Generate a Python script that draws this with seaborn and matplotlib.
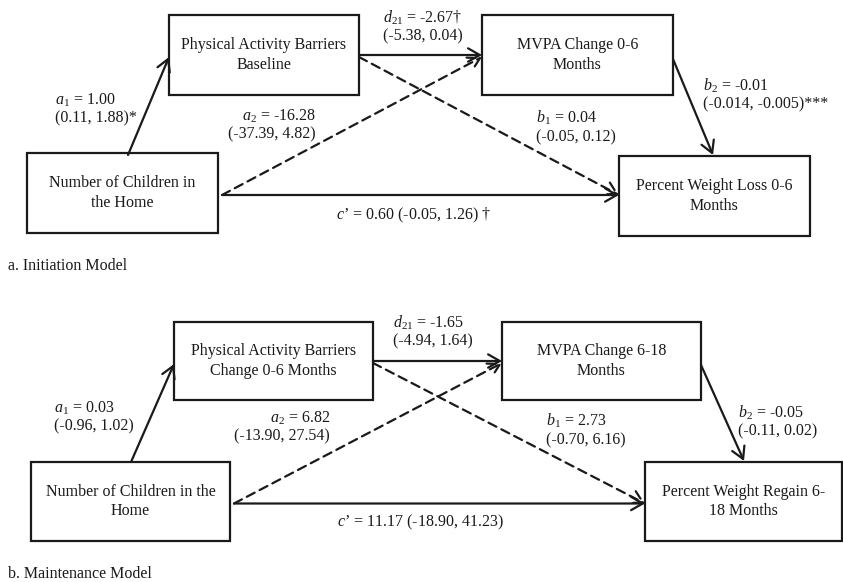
import matplotlib
matplotlib.use("Agg")
import matplotlib.pyplot as plt
import seaborn as sns
from matplotlib.patches import Rectangle

# Node labels for both models
init_nodes = ["Number of Children in\nthe Home", "Physical Activity Barriers\nBaseline",
              "MVPA Change 0-6\nMonths", "Percent Weight Loss 0-6\nMonths"]
maint_nodes = ["Number of Children in the\nHome", "Physical Activity Barriers\nChange 0-6 Months",
               "MVPA Change 6-18\nMonths", "Percent Weight Regain 6-\n18 Months"]

# Path coefficients (estimate, CI, marker)
init_paths = {
    "a1": ("1.00", "(0.11, 1.88)*"),
    "a2": ("-16.28", "(-37.39, 4.82)"),
    "d21": ("-2.67\u2020", "(-5.38, 0.04)"),
    "b1": ("0.04", "(-0.05, 0.12)"),
    "b2": ("-0.01", "(-0.014, -0.005)***"),
    "c": ("0.60", "(-0.05, 1.26) \u2020"),
}
maint_paths = {
    "a1": ("0.03", "(-0.96, 1.02)"),
    "a2": ("6.82", "(-13.90, 27.54)"),
    "d21": ("-1.65", "(-4.94, 1.64)"),
    "b1": ("2.73", "(-0.70, 6.16)"),
    "b2": ("-0.05", "(-0.11, 0.02)"),
    "c": ("11.17", "(-18.90, 41.23)"),
}
panel_titles = ["a. Initiation Model", "b. Maintenance Model"]

sns.set_theme(style="white")
plt.rcParams["font.family"] = ["Liberation Serif", "DejaVu Serif"]
plt.rcParams["mathtext.fontset"] = "custom"
plt.rcParams["mathtext.rm"] = "Liberation Serif"
plt.rcParams["mathtext.it"] = "Liberation Serif:italic"

fig = plt.figure(figsize=(8.43, 5.82), dpi=100)
ax = fig.add_axes([0, 0, 1, 1])
ax.set_xlim(0, 843)
ax.set_ylim(582, 0)
ax.axis("off")

FS = 11.5
LW = 1.6
INK = "#1a1a1a"


def box(x0, y0, x1, y1, label):
    ax.add_patch(Rectangle((x0, y0), x1 - x0, y1 - y0, fill=False, lw=LW, ec=INK))
    ax.text((x0 + x1) / 2, (y0 + y1) / 2, label, ha="center", va="center",
            fontsize=FS, linespacing=1.3, color=INK)


def arrow(p0, p1, dashed=False):
    ax.annotate("", xy=p1, xytext=p0,
                arrowprops=dict(arrowstyle="->,head_length=0.7,head_width=0.4",
                                lw=LW, color=INK,
                                linestyle=(0, (4, 2.5)) if dashed else "-",
                                shrinkA=0, shrinkB=0))


def draw_model(nodes, paths, lay, title, ty):
    ch, pa, mv, pw = lay["boxes"]
    for b, lbl in zip(lay["boxes"], nodes):
        box(*b, lbl)
    midc = (ch[1] + ch[3]) / 2 + 2
    midp = (pa[1] + pa[3]) / 2 + 1
    # arrows
    arrow(lay["a1_start"], (pa[0], lay["a1_end_y"]))
    arrow((pa[2], midp - 1), (mv[0], midp - 1))
    arrow((ch[2] + 4, midc), (mv[0], midp + 1), dashed=True)
    arrow((pa[2], midp + 1), (pw[0], midc), dashed=True)
    arrow((ch[2] + 4, midc), (pw[0], midc))
    arrow((mv[2], midp + 3), lay["b2_end"])

    kw = dict(fontsize=FS, color=INK, va="center")
    (ax1, ay1) = lay["a1_txt"]
    ax.text(ax1, ay1, "$a_1$ = " + paths["a1"][0], ha="left", **kw)
    ax.text(ax1, ay1 + 18, paths["a1"][1], ha="left", **kw)
    (ax2, ay2) = lay["a2_txt"]
    ax.text(ax2, ay2, "$a_2$ = " + paths["a2"][0], ha="right", **kw)
    ax.text(ax2, ay2 + 18, paths["a2"][1], ha="right", **kw)
    (dx, dy) = lay["d_txt"]
    ax.text(dx, dy, r"$d_{\mathit{21}}$ = " + paths["d21"][0], ha="left", **kw)
    ax.text(dx, dy + 18, paths["d21"][1], ha="left", **kw)
    (bx1, by1) = lay["b1_txt"]
    ax.text(bx1, by1, "$b_1$ = " + paths["b1"][0], ha="left", **kw)
    ax.text(bx1, by1 + 19, paths["b1"][1], ha="left", **kw)
    (bx2, by2) = lay["b2_txt"]
    ax.text(bx2, by2, "$b_2$ = " + paths["b2"][0], ha="left", **kw)
    ax.text(bx2, by2 + 18, paths["b2"][1], ha="left", **kw)
    (cx, cy) = lay["c_txt"]
    ax.text(cx, cy, "$c$\u2019 = " + paths["c"][0] + " " + paths["c"][1], ha="left", **kw)
    ax.text(8, ty, title, ha="left", **kw)


init_layout = {
    "boxes": [(27, 153, 218, 233), (169, 15, 359, 95), (482, 15, 673, 95), (619, 156, 810, 236)],
    "a1_start": (128, 155), "a1_end_y": 57, "b2_end": (713, 155),
    "a1_txt": (55, 100), "a2_txt": (316, 116), "d_txt": (383, 18),
    "b1_txt": (536, 118), "b2_txt": (703, 86), "c_txt": (336, 215),
}
maint_layout = {
    "boxes": [(31, 462, 230, 541), (174, 322, 373, 400), (502, 322, 701, 400), (645, 462, 842, 541)],
    "a1_start": (131, 462), "a1_end_y": 364, "b2_end": (744, 461),
    "a1_txt": (54, 408), "a2_txt": (330, 418), "d_txt": (393, 323),
    "b1_txt": (546, 421), "b2_txt": (738, 413), "c_txt": (337, 522),
}

draw_model(init_nodes, init_paths, init_layout, panel_titles[0], 266)
draw_model(maint_nodes, maint_paths, maint_layout, panel_titles[1], 574)

fig.savefig("out.png", dpi=100, facecolor="white")
